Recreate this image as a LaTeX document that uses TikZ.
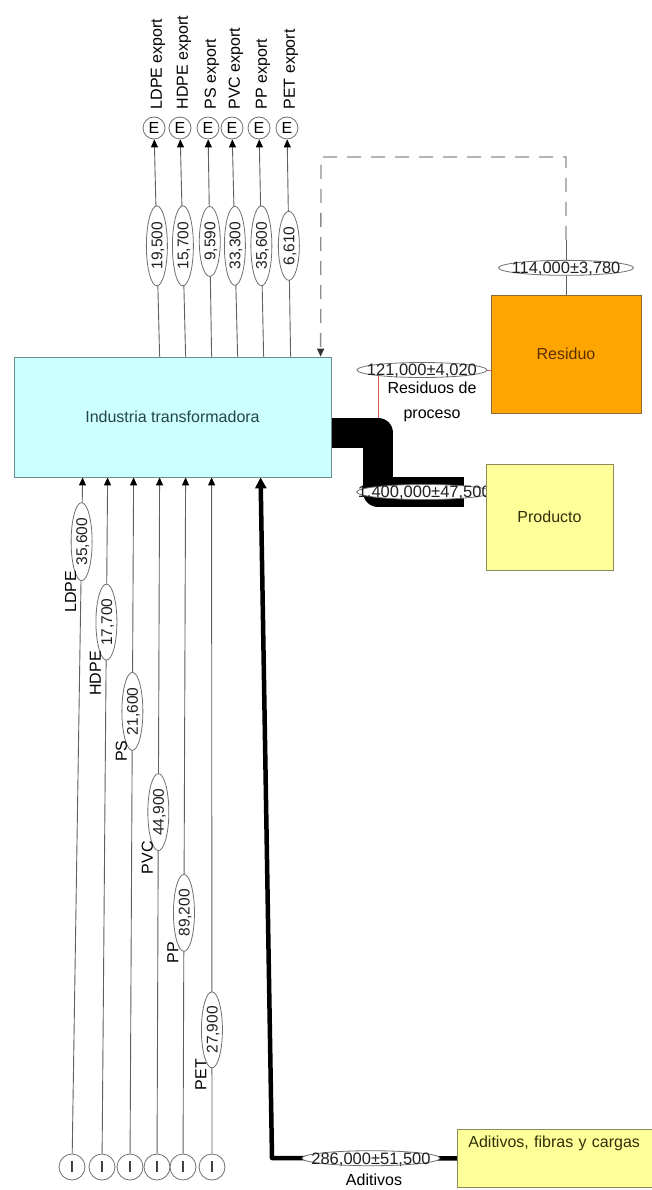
\documentclass[tikz,border=0pt]{standalone}
\usepackage{fontspec}
\setmainfont{Liberation Sans}
\usetikzlibrary{shapes.geometric,arrows.meta}

\definecolor{flowgrey}{HTML}{606060}
\definecolor{lblgrey}{HTML}{707070}
\definecolor{dashgrey}{HTML}{8C8C8C}
\definecolor{wastered}{HTML}{E05A5A}
\definecolor{cyanfill}{HTML}{CCFFFF}
\definecolor{cyanline}{HTML}{6A8C8C}
\definecolor{cyantext}{HTML}{254545}
\definecolor{orangefill}{HTML}{FFA500}
\definecolor{orangeline}{HTML}{8A6A3A}
\definecolor{orangetext}{HTML}{5A3000}
\definecolor{yellowfill}{HTML}{FFFF99}
\definecolor{yellowline}{HTML}{8B8B5B}
\definecolor{yellowtext}{HTML}{30300A}
\definecolor{valtext}{HTML}{202020}

% value text centred in a flat label ellipse without widening it
\newcommand{\flowtxt}[1]{\smash{\makebox[0pt]{\raisebox{-0.36em}{#1}}}}

\pgfdeclarelayer{paper}
\pgfdeclarelayer{flows}
\pgfsetlayers{paper,flows,main}

\begin{document}
\begin{tikzpicture}[x=1pt,y=-1pt,
  every node/.style={inner sep=0pt},
  txt/.style={font=\fontsize{16}{19}\selectfont, text=black},
  flowline/.style={draw=flowgrey, line width=0.9pt,
    -{Triangle[length=8pt,width=7pt,color=black]}},
  vlab/.style={ellipse, draw=lblgrey, line width=0.8pt, fill=white, text=valtext,
    rotate=90, minimum height=21pt, font=\fontsize{15.5}{18}\selectfont},
  hlab/.style={ellipse, draw=lblgrey, line width=0.8pt, fill=white, text=valtext,
    minimum height=15pt, font=\fontsize{16.5}{19}\selectfont},
  exportnode/.style={circle, draw=lblgrey, line width=0.8pt, fill=white,
    minimum size=22pt, txt},
  importnode/.style={circle, draw=lblgrey, line width=0.8pt, fill=white,
    minimum size=26pt, txt},
  mainbox/.style={rectangle, draw=cyanline, line width=0.8pt, fill=cyanfill,
    txt, text=cyantext},
  wastebox/.style={rectangle, draw=orangeline, line width=0.8pt, fill=orangefill,
    txt, text=orangetext},
  prodbox/.style={rectangle, draw=yellowline, line width=0.8pt, fill=yellowfill,
    txt, text=yellowtext},
]
\useasboundingbox (0,0) rectangle (652,1190);
\clip (0,0) rectangle (652,1190);
\begin{pgfonlayer}{paper}
\fill[white] (0,0) rectangle (652,1190);
\end{pgfonlayer}

% ---- process boxes
\node[mainbox, minimum width=317pt, minimum height=120pt] (main) at (172.5,417) {Industria transformadora};
\node[wastebox, minimum width=150pt, minimum height=118pt] (res) at (566,354) {Residuo};
\node[prodbox, minimum width=127pt, minimum height=106pt] (prod) at (549.5,517) {Producto};
\node[prodbox, anchor=north west, minimum width=243pt, inner xsep=11pt,
  text width=221pt, align=left, text height=18pt, text depth=40pt] (ad) at (457,1129)
  {Aditivos, fibras y cargas};

% ---- export sinks and import sources
\foreach \n/\x in {1/154,2/180,3/208,4/232,5/259,6/287}
  \node[exportnode] (e\n) at (\x,128) {E};
\foreach \n/\x in {1/72,2/102,3/130,4/157,5/183,6/212}
  \node[importnode] (i\n) at (\x,1167) {I};

\foreach \n/\t in {1/LDPE export,2/HDPE export,3/PS export,4/PVC export,5/PP export,6/PET export}
  \node[txt, rotate=90, anchor=west] (x\n) at ([xshift=4pt,yshift=7pt]e\n.north) {\t};

\begin{pgfonlayer}{flows}
% ---- exports
\draw[flowline] ([xshift=146pt]main.north west) -- node[vlab, minimum width=80pt, pos=.51] (u1) {\flowtxt{19,500}} (e1);
\draw[flowline] ([xshift=172pt]main.north west) -- node[vlab, minimum width=80pt, pos=.51] (u2) {\flowtxt{15,700}} (e2);
\draw[flowline] ([xshift=198pt]main.north west) -- node[vlab, minimum width=70pt, pos=.53] (u3) {\flowtxt{9,590}} (e3);
\draw[flowline] ([xshift=224pt]main.north west) -- node[vlab, minimum width=79pt, pos=.51] (u4) {\flowtxt{33,300}} (e4);
\draw[flowline] ([xshift=250pt]main.north west) -- node[vlab, minimum width=80pt, pos=.51] (u5) {\flowtxt{35,600}} (e5);
\draw[flowline] ([xshift=277pt]main.north west) -- node[vlab, minimum width=69pt, pos=.51] (u6) {\flowtxt{6,610}} (e6);

% ---- imports
\draw[flowline] (i1) -- node[vlab, minimum width=78pt, pos=.905] (v1) {\flowtxt{35,600}} ([xshift=69pt]main.south west);
\draw[flowline] (i2) -- node[vlab, minimum width=76pt, pos=.786] (v2) {\flowtxt{17,700}} ([xshift=94pt]main.south west);
\draw[flowline] (i3) -- node[vlab, minimum width=78pt, pos=.654] (v3) {\flowtxt{21,600}} ([xshift=120pt]main.south west);
\draw[flowline] (i4) -- node[vlab, minimum width=77pt, pos=.505] (v4) {\flowtxt{44,900}} ([xshift=146pt]main.south west);
\draw[flowline] (i5) -- node[vlab, minimum width=77pt, pos=.356] (v5) {\flowtxt{89,200}} ([xshift=172pt]main.south west);
\draw[flowline] (i6) -- node[vlab, minimum width=76pt, pos=.183] (v6) {\flowtxt{27,900}} ([xshift=198pt]main.south west);

% ---- process waste to the waste stock
\coordinate (rk) at (378,370);
\draw[wastered, line width=0.8pt] ([yshift=-76pt]main.north east) -| (rk)
  -- node[hlab, minimum width=130pt, pos=.39] (wv) {\flowtxt{121,000±4,020}} (res.west |- rk);

% ---- product output
\coordinate (pk) at (378,492);
\draw[black, line width=30pt, line join=round, shorten >=22pt]
  ([yshift=-76pt]main.north east) -| (pk)
  -- node[hlab, minimum width=135pt, pos=.43] (pv) {\flowtxt{1,400,000±47,500}} (prod.west |- pk);

% ---- recycled waste back to the industry
\coordinate (rtop) at (566,240);
\coordinate (dk) at (321,157);
\draw[flowgrey, line width=0.9pt] (res.north)
  -- node[hlab, minimum width=135pt, pos=.49] (rv) {\flowtxt{114,000±3,780}} (rtop);
\draw[dashgrey, line width=1.3pt, dash pattern=on 14pt off 10pt,
  -{Triangle[length=8pt,width=7pt,color=black!80]}]
  (rtop) |- (dk) -- ([xshift=307pt]main.north west);

% ---- additives input
\coordinate (adk) at (272,1158);
\draw[black, line width=4.5pt, line join=round, -{Triangle[length=11pt,width=11pt]}]
  (ad.west) -- node[hlab, minimum width=138pt, pos=.465] (av) {\flowtxt{286,000±51,500}} (adk)
  -- ([xshift=247pt]main.south west);
\end{pgfonlayer}

% ---- flow names
\foreach \n/\t in {1/LDPE,2/HDPE,3/PS,4/PVC,5/PP,6/PET}
  \node[txt, rotate=90, anchor=east] (n\n) at ([xshift=-11pt,yshift=-29pt]v\n.center) {\t};
\node[txt, align=center, anchor=north, font=\fontsize{16}{25}\selectfont] (wname) at (432,382) {Residuos de\\proceso};
\node[txt] (aname) at (374,1180) {Aditivos};
\end{tikzpicture}
\end{document}
